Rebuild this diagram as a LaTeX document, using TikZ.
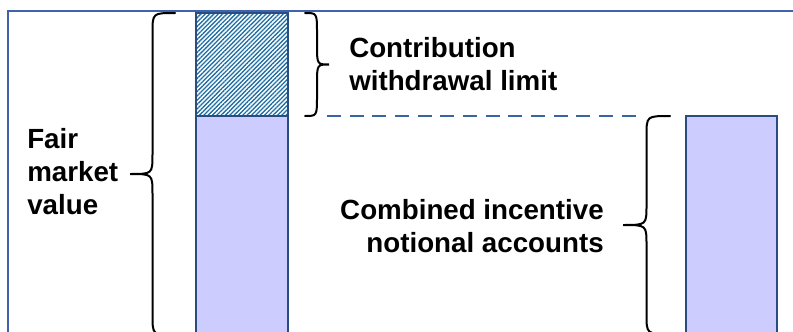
\documentclass[tikz,border=0pt]{standalone}
\usepackage{fontspec}
\setmainfont{Liberation Sans}
\usetikzlibrary{patterns.meta}

\definecolor{barfill}{HTML}{CCCCFF}
\definecolor{barline}{HTML}{2B4C7E}
\definecolor{hatchblue}{HTML}{1F6FA5}
\definecolor{frameblue}{HTML}{3F62AD}
\definecolor{dashblue}{HTML}{3A66A0}

\tikzset{
  bar/.style={draw=barline, line width=2.2pt, fill=barfill}, % plain part of a bar
  hatched/.style={draw=barline, line width=2.2pt, pattern={Lines[angle=45,distance=2.3pt,line width=1pt]}, pattern color=hatchblue}, % hatched part
  curly/.style={draw, line width=1.5pt, line cap=round}, % brace line
  label text/.style={font=\bfseries\fontsize{20.8}{24.75}\selectfont, inner sep=0pt} % labels
}

% brace: end x, top y, bottom y, signed width (negative: tip to the left)
\newcommand{\curlybrace}[4]{%
  \draw[curly] (#1,#2) .. controls ({#1+(#4)/2},#2) .. ({#1+(#4)/2},{#2+20})
    -- ({#1+(#4)/2},{(#2+#3)/2-20}) .. controls ({#1+(#4)/2},{(#2+#3)/2}) .. ({#1+#4},{(#2+#3)/2})
    .. controls ({#1+(#4)/2},{(#2+#3)/2}) .. ({#1+(#4)/2},{(#2+#3)/2+20})
    -- ({#1+(#4)/2},{#3-20}) .. controls ({#1+(#4)/2},#3) .. (#1,#3);
}

\begin{document}
\begin{tikzpicture}[x=0.75pt,y=-0.75pt]
    \clip (0,0) rectangle (793,332);

    \coordinate (frameTL) at (8,11);
    \coordinate (frameBR) at (820,360);
    \coordinate (leftTop) at (196,13);
    \coordinate (leftMid) at (288,116);
    \coordinate (leftBase) at (196,116);
    \coordinate (leftBot) at (288,360);
    \coordinate (rightTop) at (686,116);
    \coordinate (rightBot) at (777,360);
    \coordinate (dashStart) at (327,116);
    \coordinate (dashEnd) at (642,116);

    \draw[frameblue, line width=1.8pt] (frameTL) rectangle (frameBR);

    % bars
    \draw[hatched] (leftTop) rectangle (leftMid);
    \draw[bar] (leftBase) rectangle (leftBot);
    \draw[bar] (rightTop) rectangle (rightBot);

    \draw[dashblue, line width=1.6pt, dash pattern=on 10.5pt off 6.5pt] (dashStart) -- (dashEnd);

    % braces
    \curlybrace{175}{13}{335}{-45}
    \curlybrace{305}{13}{116}{24}
    \curlybrace{670}{116}{334}{-47}

    \node[label text, anchor=west, align=left] (fmv) at (27,172) {Fair\\market\\value};
    \node[label text, anchor=west, align=left] (cwl) at (349,64) {Contribution\\withdrawal limit};
    \node[label text, anchor=east, align=right] (cina) at (604,226) {Combined incentive\\notional accounts};
\end{tikzpicture}
\end{document}
